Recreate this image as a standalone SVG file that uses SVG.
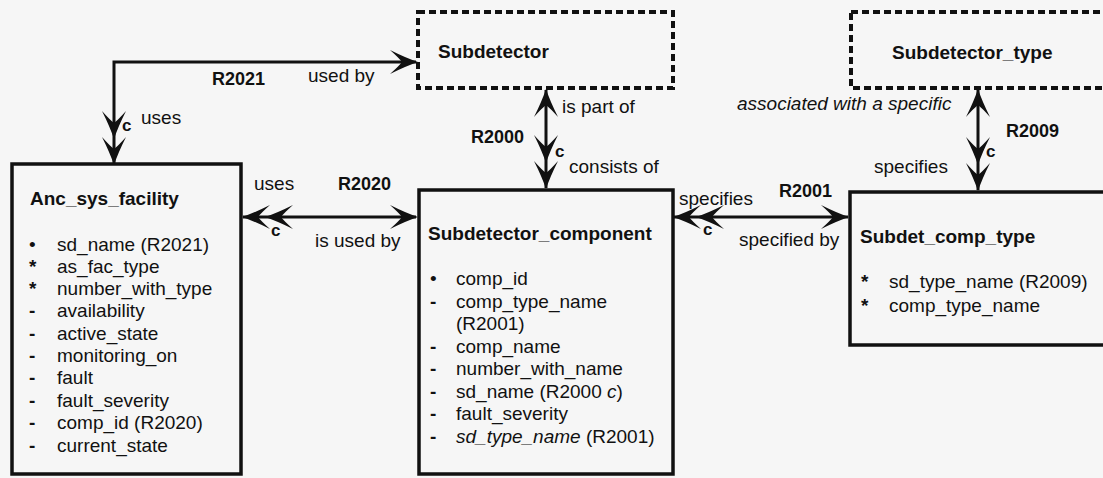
<svg xmlns="http://www.w3.org/2000/svg" width="1103" height="478" viewBox="0 0 1103 478">
<style>
text{font-family:"Liberation Sans",Arial,Helvetica,sans-serif;fill:#111}
.t{font-size:19px;font-weight:bold}
.a{font-size:19px}
.l{font-size:19px}
.r{font-size:18px;font-weight:bold}
.c{font-size:17px;font-weight:bold}
.i{font-style:italic}
.b{font-weight:bold}
.box{fill:none;stroke:#111;stroke-width:3.5}
.dbox{fill:none;stroke:#111;stroke-width:4;stroke-dasharray:7 4}
.ln{fill:none;stroke:#111;stroke-width:3}
.ah{fill:#111}
</style>
<defs>
<path id="ah" class="ah" d="M0,0 Q-12,-4 -28,-12 Q-19,-4 -16,0 Q-19,4 -28,12 Q-12,4 0,0 Z"/>
</defs>
<rect width="1103" height="478" fill="#f6f6f6"/>

<g id="connectors">
  <g id="R2021">
    <path class="ln" d="M114,164 V62 H416"/>
    <use href="#ah" transform="translate(418,62)"/>
    <use href="#ah" transform="translate(114,165) rotate(90)"/>
    <use href="#ah" transform="translate(114,139) rotate(90)"/>
    <text class="r" x="212" y="85">R2021</text>
    <text class="l" x="308" y="82">used by</text>
    <text class="l" x="141" y="124">uses</text>
    <text class="c" x="122" y="131">c</text>
  </g>
  <g id="R2020">
    <path class="ln" d="M243,217 H416"/>
    <use href="#ah" transform="translate(418,217)"/>
    <use href="#ah" transform="translate(242,217) rotate(180)"/>
    <use href="#ah" transform="translate(265,217) rotate(180)"/>
    <text class="l" x="254" y="190">uses</text>
    <text class="r" x="338" y="190">R2020</text>
    <text class="c" x="271" y="236">c</text>
    <text class="l" x="315" y="247">is used by</text>
  </g>
  <g id="R2000">
    <path class="ln" d="M546,90 V188"/>
    <use href="#ah" transform="translate(546,89) rotate(-90)"/>
    <use href="#ah" transform="translate(546,189) rotate(90)"/>
    <use href="#ah" transform="translate(546,163) rotate(90)"/>
    <text class="l" x="562" y="113">is part of</text>
    <text class="r" x="471" y="143">R2000</text>
    <text class="c" x="555" y="157">c</text>
    <text class="l" x="569" y="173">consists of</text>
  </g>
  <g id="R2001">
    <path class="ln" d="M674,217 H848"/>
    <use href="#ah" transform="translate(849,217)"/>
    <use href="#ah" transform="translate(673,217) rotate(180)"/>
    <use href="#ah" transform="translate(696,217) rotate(180)"/>
    <text class="l" x="679" y="205">specifies</text>
    <text class="r" x="779" y="197">R2001</text>
    <text class="c" x="703" y="235">c</text>
    <text class="l" x="739" y="246">specified by</text>
  </g>
  <g id="R2009">
    <path class="ln" d="M978,90 V190"/>
    <use href="#ah" transform="translate(978,89) rotate(-90)"/>
    <use href="#ah" transform="translate(978,191) rotate(90)"/>
    <use href="#ah" transform="translate(978,165) rotate(90)"/>
    <text class="l i" x="737" y="110">associated with a specific</text>
    <text class="r" x="1006" y="137">R2009</text>
    <text class="c" x="986" y="157">c</text>
    <text class="l" x="874" y="173">specifies</text>
  </g>
</g>

<g id="Subdetector">
  <rect class="dbox" x="418" y="12" width="255" height="76"/>
  <text class="t" x="438" y="58">Subdetector</text>
</g>

<g id="Subdetector_type">
  <rect class="dbox" x="851" y="12" width="280" height="76"/>
  <text class="t" x="892" y="59">Subdetector_type</text>
</g>

<g id="Anc_sys_facility">
  <rect class="box" x="12" y="164" width="229" height="310"/>
  <text class="t" x="30" y="205">Anc_sys_facility</text>
  <text class="a" y="251"><tspan x="29">•</tspan><tspan x="57">sd_name (R2021)</tspan></text>
  <text class="a" y="273"><tspan x="29" class="b">*</tspan><tspan x="57">as_fac_type</tspan></text>
  <text class="a" y="295"><tspan x="29" class="b">*</tspan><tspan x="57">number_with_type</tspan></text>
  <text class="a" y="317"><tspan x="29" class="b">-</tspan><tspan x="57">availability</tspan></text>
  <text class="a" y="340"><tspan x="29" class="b">-</tspan><tspan x="57">active_state</tspan></text>
  <text class="a" y="362"><tspan x="29" class="b">-</tspan><tspan x="57">monitoring_on</tspan></text>
  <text class="a" y="384"><tspan x="29" class="b">-</tspan><tspan x="57">fault</tspan></text>
  <text class="a" y="407"><tspan x="29" class="b">-</tspan><tspan x="57">fault_severity</tspan></text>
  <text class="a" y="429"><tspan x="29" class="b">-</tspan><tspan x="57">comp_id (R2020)</tspan></text>
  <text class="a" y="452"><tspan x="29" class="b">-</tspan><tspan x="57">current_state</tspan></text>
</g>

<g id="Subdetector_component">
  <rect class="box" x="419" y="190" width="254" height="284"/>
  <text class="t" x="428" y="240">Subdetector_component</text>
  <text class="a" y="285"><tspan x="430">•</tspan><tspan x="456">comp_id</tspan></text>
  <text class="a" y="308"><tspan x="430" class="b">-</tspan><tspan x="456">comp_type_name</tspan></text>
  <text class="a" x="456" y="330">(R2001)</text>
  <text class="a" y="353"><tspan x="430" class="b">-</tspan><tspan x="456">comp_name</tspan></text>
  <text class="a" y="375"><tspan x="430" class="b">-</tspan><tspan x="456">number_with_name</tspan></text>
  <text class="a" y="398"><tspan x="430" class="b">-</tspan><tspan x="456">sd_name (R2000 <tspan class="i">c</tspan>)</tspan></text>
  <text class="a" y="420"><tspan x="430" class="b">-</tspan><tspan x="456">fault_severity</tspan></text>
  <text class="a" y="443"><tspan x="430" class="b">-</tspan><tspan x="456"><tspan class="i">sd_type_name</tspan> (R2001)</tspan></text>
</g>

<g id="Subdet_comp_type">
  <rect class="box" x="850" y="192" width="280" height="153"/>
  <text class="t" x="860" y="243">Subdet_comp_type</text>
  <text class="a" y="288"><tspan x="861" class="b">*</tspan><tspan x="889">sd_type_name (R2009)</tspan></text>
  <text class="a" y="312"><tspan x="861" class="b">*</tspan><tspan x="889">comp_type_name</tspan></text>
</g>
</svg>
